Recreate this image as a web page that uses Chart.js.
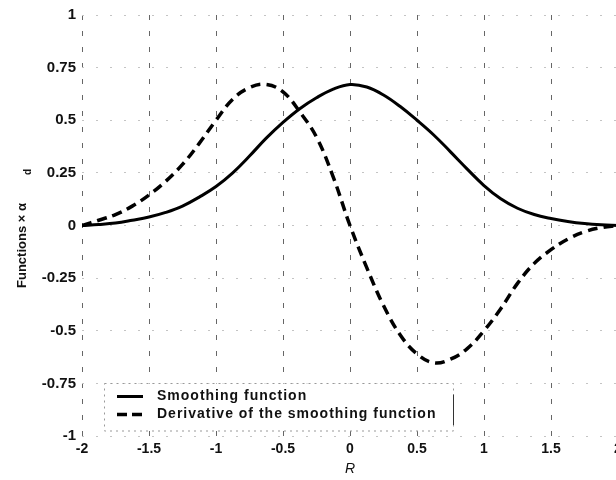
<!DOCTYPE html>
<html>
<head>
<meta charset="utf-8">
<script src="https://cdn.jsdelivr.net/npm/chart.js@4/dist/chart.umd.min.js"></script>
<style>
  html, body { margin: 0; padding: 0; background: #fff; overflow: hidden; }
  #wrap { width: 630px; height: 480px; }
</style>
</head>
<body>
<div id="wrap"><canvas id="myChart" width="630" height="480"></canvas></div>
<script>
'use strict';

// R values (x axis)
let rValues = [-2, -1.875, -1.75, -1.625, -1.5, -1.375, -1.25, -1.125, -1, -0.875, -0.75, -0.625, -0.5, -0.375, -0.25, -0.125,
  0, 0.125, 0.25, 0.375, 0.5, 0.625, 0.75, 0.875, 1, 1.125, 1.25, 1.375, 1.5, 1.625, 1.75, 1.875, 2];

// smoothing function
let smoothing = [0, 0.005, 0.012, 0.025, 0.04, 0.062, 0.092, 0.135, 0.185, 0.25, 0.33, 0.415, 0.49, 0.555, 0.607, 0.648,
  0.67, 0.658, 0.62, 0.565, 0.5, 0.43, 0.35, 0.268, 0.19, 0.127, 0.082, 0.052, 0.033, 0.019, 0.009, 0.003, 0];

// derivative of the smoothing function
let derivative = [0, 0.025, 0.052, 0.092, 0.145, 0.21, 0.29, 0.39, 0.5, 0.6, 0.655, 0.67, 0.635, 0.54, 0.42, 0.23,
  0, -0.2, -0.38, -0.52, -0.61, -0.652, -0.635, -0.585, -0.5, -0.395, -0.275, -0.18, -0.115, -0.065, -0.03, -0.01, 0];

let xTicks = [-2, -1.5, -1, -0.5, 0, 0.5, 1, 1.5, 2];
let yTicks = [-1, -0.75, -0.5, -0.25, 0, 0.25, 0.5, 0.75, 1];

let seriesNames = ['Smoothing function', 'Derivative of the smoothing function'];

const FONT = '"Liberation Sans", Arial, sans-serif';

function toPoints(ys) {
  return rValues.map((x, i) => ({ x: x, y: ys[i] }));
}

// legend box in the lower left of the plot
const legendBox = {
  id: 'legendBox',
  afterDatasetsDraw(chart) {
    let ctx = chart.ctx;
    let area = chart.chartArea;
    let yScale = chart.scales.y;
    let left = area.left + 22;
    let top = Math.round(yScale.getPixelForValue(-0.75)) + 0.5;
    let bottom = area.bottom - 5;
    let right = 453;
    ctx.save();
    ctx.fillStyle = '#fff';
    ctx.fillRect(left, top, right - left, bottom - top);
    ctx.strokeStyle = '#999';
    ctx.lineWidth = 1;
    ctx.setLineDash([2, 4]);
    ctx.strokeRect(left + 0.5, top, right - left, bottom - top);
    ctx.setLineDash([]);
    ctx.strokeStyle = '#333';
    ctx.beginPath();
    ctx.moveTo(right + 0.5, top + 11);
    ctx.lineTo(right + 0.5, bottom - 6);
    ctx.stroke();

    let rows = [top + 13, top + 31];
    ctx.strokeStyle = '#000';
    ctx.lineWidth = 3;
    ctx.beginPath();
    ctx.moveTo(left + 13, rows[0]);
    ctx.lineTo(left + 39, rows[0]);
    ctx.stroke();
    ctx.setLineDash([10, 5]);
    ctx.lineWidth = 3.5;
    ctx.beginPath();
    ctx.moveTo(left + 13, rows[1]);
    ctx.lineTo(left + 39, rows[1]);
    ctx.stroke();
    ctx.setLineDash([]);

    ctx.fillStyle = '#111';
    ctx.font = 'bold 14px ' + FONT;
    ctx.letterSpacing = '1px';
    ctx.textBaseline = 'middle';
    ctx.textAlign = 'left';
    ctx.fillText(seriesNames[0], left + 53, rows[0]);
    ctx.fillText(seriesNames[1], left + 53, rows[1]);
    ctx.restore();
  }
};

// rotated y title with a subscript d
const yTitle = {
  id: 'yTitle',
  afterDraw(chart) {
    let ctx = chart.ctx;
    ctx.save();
    ctx.translate(22, 288);
    ctx.rotate(-Math.PI / 2);
    ctx.fillStyle = '#111';
    ctx.textBaseline = 'middle';
    ctx.textAlign = 'left';
    ctx.font = 'bold 13px ' + FONT;
    let main = 'Functions \u00d7 \u03b1';
    ctx.fillText(main, 0, 0);
    let w = ctx.measureText(main).width;
    ctx.font = 'bold 10px ' + FONT;
    ctx.fillText('d', w + 28, 6);
    ctx.restore();
  }
};

let ctx = document.getElementById('myChart').getContext('2d');
let myChart = new Chart(ctx, {
  type: 'line',
  data: {
    datasets: [{
      label: seriesNames[0],
      data: toPoints(smoothing),
      borderColor: '#000',
      borderWidth: 3,
      pointRadius: 0,
      fill: false,
      tension: 0.4
    }, {
      label: seriesNames[1],
      data: toPoints(derivative),
      borderColor: '#000',
      borderWidth: 3.5,
      borderDash: [10, 6],
      pointRadius: 0,
      fill: false,
      tension: 0.4
    }]
  },
  options: {
    responsive: false,
    animation: false,
    devicePixelRatio: 1,
    layout: { padding: { top: 15, right: 12, left: 0, bottom: 0 } },
    plugins: {
      legend: { display: false },
      tooltip: { enabled: false }
    },
    scales: {
      x: {
        type: 'linear',
        min: -2,
        max: 2,
        afterBuildTicks: (scale) => { scale.ticks = xTicks.map(v => ({ value: v })); },
        afterFit: (scale) => { scale.height = 44; },
        grid: { color: '#666', lineWidth: 1, drawTicks: false },
        border: { display: false, dash: [5, 11] },
        ticks: {
          color: '#111', padding: 5, maxRotation: 0,
          font: { family: FONT, size: 14, weight: 'bold' },
          callback: (v) => String(v)
        },
        title: { display: true, text: 'R', color: '#111', padding: { top: 2, bottom: 2 }, font: { family: FONT, size: 14, style: 'italic' } }
      },
      y: {
        min: -1,
        max: 1,
        afterBuildTicks: (scale) => { scale.ticks = yTicks.map(v => ({ value: v })); },
        afterFit: (scale) => { scale.width = 82; },
        grid: { color: '#c4c4c4', lineWidth: 1, drawTicks: false },
        border: { display: false, dash: [2, 12] },
        ticks: {
          color: '#111', padding: 6,
          font: { family: FONT, size: 15, weight: 'bold' },
          callback: (v) => String(v)
        }
      }
    }
  },
  plugins: [legendBox, yTitle]
});
</script>
</body>
</html>
